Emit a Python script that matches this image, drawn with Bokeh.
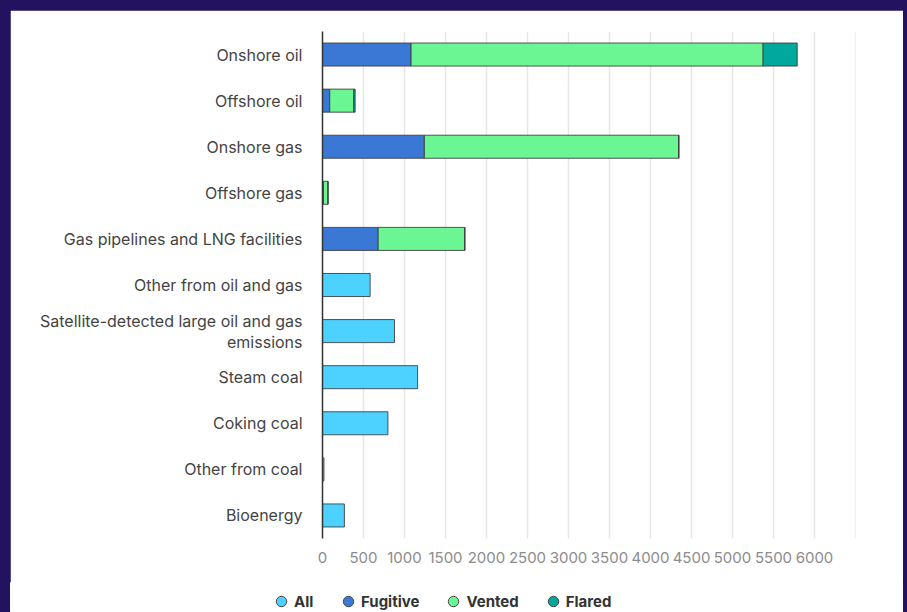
from bokeh.plotting import figure
from bokeh.models import (ColumnDataSource, FactorRange, Range1d, FixedTicker, Legend,
                          LegendItem, Span)
from bokeh.layouts import column
from bokeh.embed import file_html
from bokeh.resources import INLINE

# ---- data ----
categories = [
    "Onshore oil", "Offshore oil", "Onshore gas", "Offshore gas",
    "Gas pipelines and LNG facilities", "Other from oil and gas",
    "Satellite-detected large oil and gas\nemissions", "Steam coal",
    "Coking coal", "Other from coal", "Bioenergy",
]
og_categories = ["Onshore oil", "Offshore oil", "Onshore gas", "Offshore gas",
                 "Gas pipelines and LNG facilities"]
fugitive = [1080, 88, 1242, 12, 679]
vented = [4293, 294, 3103, 55, 1056]
flared = [416, 16, 0, 0, 0]

all_categories = ["Other from oil and gas",
                  "Satellite-detected large oil and gas\nemissions",
                  "Steam coal", "Coking coal", "Other from coal", "Bioenergy"]
all_values = [581, 878, 1160, 798, 18, 267]

x_ticks = [0, 500, 1000, 1500, 2000, 2500, 3000, 3500, 4000, 4500, 5000, 5500, 6000, 6500]
series_names = ["All", "Fugitive", "Vented", "Flared"]

# ---- style ----
C_ALL = "#4dd2ff"
C_FUG = "#3b78d6"
C_VEN = "#6bf593"
C_FLA = "#00a99c"
OUTLINE = "#3a3a3a"
FRAME = "#221260"
FONT = "Inter"

p = figure(
    y_range=FactorRange(factors=list(reversed(categories))),
    x_range=Range1d(0, 6500),
    width=893, height=572,
    output_backend="svg", toolbar_location=None,
    min_border_left=312, min_border_right=48, min_border_top=21, min_border_bottom=44,
)
p.outline_line_color = "white"
p.outline_line_width = 2
p.frame_align = False
p.margin = (10, 4, 0, 10)

# vertical grid lines at the x ticks
for t in x_ticks[1:]:
    p.add_layout(Span(location=t, dimension="height", line_color="#e6e6e6", line_width=1.5,
                      level="underlay"))
p.xgrid.visible = False
p.ygrid.visible = False

og_src = ColumnDataSource(dict(cat=og_categories, fugitive=fugitive, vented=vented, flared=flared))
p.hbar_stack(["fugitive", "vented", "flared"], y="cat", height=0.5, source=og_src,
             fill_color=[C_FUG, C_VEN, C_FLA], line_color=OUTLINE, line_alpha=0.85, line_width=1)

all_src = ColumnDataSource(dict(cat=all_categories, value=all_values))
p.hbar(y="cat", left=0, right="value", height=0.5, source=all_src,
       fill_color=C_ALL, line_color=OUTLINE, line_alpha=0.85, line_width=1)

# axes
p.xaxis.ticker = FixedTicker(ticks=x_ticks)
p.xaxis.major_label_overrides = {6500: ""}
p.xaxis.axis_line_color = None
p.xaxis.major_tick_line_color = None
p.xaxis.minor_tick_line_color = None
p.xaxis.major_tick_out = 0
p.xaxis.major_label_standoff = 13
p.xaxis.major_label_text_font = FONT
p.xaxis.major_label_text_font_size = "15px"
p.xaxis.major_label_text_color = "#8c8c8c"

p.yaxis.axis_line_color = "#333333"
p.yaxis.axis_line_width = 1.5
p.yaxis.major_tick_line_color = None
p.yaxis.major_tick_out = 0
p.yaxis.major_label_standoff = 20
p.yaxis.major_label_text_font = FONT
p.yaxis.major_label_text_font_size = "16px"
p.yaxis.major_label_text_color = "#444444"
p.yaxis.major_label_text_line_height = 1.05

# ---- legend strip ----
lf = figure(width=893, height=30, x_range=Range1d(0, 1), y_range=Range1d(0, 1),
            output_backend="svg", toolbar_location=None, min_border=0,
            x_axis_location=None, y_axis_location=None)
lf.outline_line_color = "white"
lf.frame_align = False
lf.margin = (0, 4, 0, 10)
lf.grid.visible = False
leg_items = []
for name, col in zip(series_names, [C_ALL, C_FUG, C_VEN, C_FLA]):
    r = lf.scatter(x=[-10], y=[-10], marker="circle", size=11, fill_color=col,
                   line_color="#444444", line_width=1)
    leg_items.append(LegendItem(label=name, renderers=[r]))
legend = Legend(items=leg_items, orientation="horizontal", location=(258, -2),
                border_line_color=None, background_fill_alpha=0,
                label_text_font=FONT, label_text_font_style="bold",
                label_text_font_size="15px", label_text_color="#333333",
                label_height=26, glyph_width=26, glyph_height=26,
                label_standoff=0, spacing=21, padding=0, margin=0)
lf.add_layout(legend, "center")

layout = column(p, lf, width=907, height=612, spacing=0,
                styles={"background-color": FRAME})

open("out.html", "w").write(file_html(layout, INLINE))
